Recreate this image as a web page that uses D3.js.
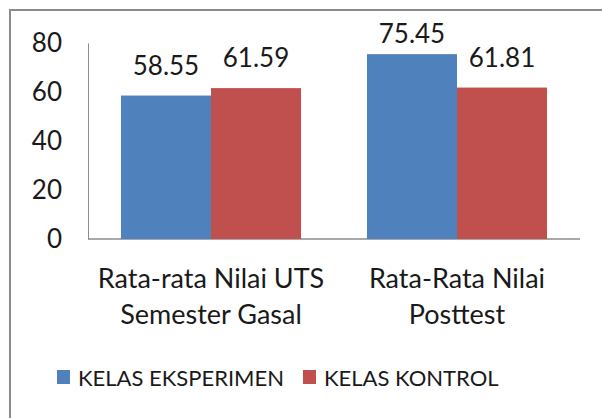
<!DOCTYPE html>
<html>
<head>
<meta charset="utf-8">
<script src="https://cdn.jsdelivr.net/npm/d3@7/dist/d3.min.js"></script>
<style>
    body { margin: 0; background: #fff; }
    svg text { font-family: Lato, "Open Sans", sans-serif; fill: #1a1a1a; }
</style>
</head>
<body>
<div id="chart"></div>
<script>
    "use strict";

    // chart data
    const categories = [["Rata-rata Nilai UTS", "Semester Gasal"], ["Rata-Rata Nilai", "Posttest"]];
    const seriesNames = ["KELAS EKSPERIMEN", "KELAS KONTROL"];
    const seriesValues = [[58.55, 75.45], [61.59, 61.81]];
    const yTicks = [0, 20, 40, 60, 80];
    const colors = ["#4f81bd", "#c0504d"];

    const width = 602;
    const height = 418;
    const margin = { top: 43, right: 22, bottom: 179, left: 88 };

    let svg = d3.select("#chart").append("svg")
        .attr("width", width)
        .attr("height", height);

    // outer frame (only top and left edges are visible in the picture)
    svg.append("rect")
        .attr("x", 10)
        .attr("y", 10)
        .attr("width", width + 20)
        .attr("height", height + 20)
        .style("fill", "none")
        .style("stroke", "#8c8c8c")
        .style("stroke-width", 2);

    let plot = svg.append("g")
        .attr("transform", `translate(${margin.left},${margin.top})`);

    let plotWidth = width - margin.left - margin.right;
    let plotHeight = height - margin.top - margin.bottom;

    // setup x
    let x0 = d3.scaleBand()
        .domain(d3.range(categories.length))
        .range([0, plotWidth])
        .paddingInner(0.268)
        .paddingOuter(0.134);
    let x1 = d3.scaleBand()
        .domain(d3.range(seriesNames.length))
        .range([0, x0.bandwidth()]);

    // setup y
    let y = d3.scaleLinear()
        .domain([0, 80])
        .range([plotHeight, 0]);

    // y-axis: labels and line only
    let yAxis = d3.axisLeft(y)
        .tickValues(yTicks)
        .tickSize(0)
        .tickPadding(26);
    let yAxisG = plot.append("g").call(yAxis);
    yAxisG.select(".domain").style("stroke", "#8c8c8c").style("stroke-width", 1);
    yAxisG.selectAll("text")
        .style("font-size", "26px")
        .style("font-family", "Lato, sans-serif")
        .style("fill", "#1a1a1a");

    // x-axis baseline
    plot.append("line")
        .attr("x1", 0)
        .attr("x2", plotWidth)
        .attr("y1", y(0))
        .attr("y2", y(0))
        .style("stroke", "#8c8c8c")
        .style("stroke-width", 1.5);

    // bars
    let groups = plot.selectAll(".group")
        .data(categories)
        .enter()
        .append("g")
        .attr("class", "group")
        .attr("transform", (_d, i) => `translate(${x0(i)},0)`);

    groups.each(function (_d, i) {
        let g = d3.select(this);
        seriesValues.forEach((values, s) => {
            g.append("rect")
                .attr("x", x1(s))
                .attr("y", y(values[i]))
                .attr("width", x1.bandwidth())
                .attr("height", y(0) - y(values[i]))
                .style("fill", colors[s]);

            g.append("text")
                .attr("x", x1(s) + x1.bandwidth() / 2)
                .attr("y", Math.max(y(values[i]) - 21, y(80)))
                .attr("text-anchor", "middle")
                .style("font-size", "26px")
                .text(values[i].toFixed(2));
        });

        // category label
        let label = g.append("text")
            .attr("text-anchor", "middle")
            .style("font-size", "27px");
        categories[i].forEach((line, k) => {
            label.append("tspan")
                .attr("x", x0.bandwidth() / 2)
                .attr("y", y(0) + 49 + k * 36)
                .text(line);
        });
    });

    // legend
    let legendX = [57, 303];
    let legend = svg.selectAll(".legend")
        .data(seriesNames)
        .enter()
        .append("g")
        .attr("class", "legend")
        .attr("transform", (_d, i) => `translate(${legendX[i]},370)`);

    legend.append("rect")
        .attr("width", 13)
        .attr("height", 14)
        .style("fill", (_d, i) => colors[i]);

    legend.append("text")
        .attr("x", 21)
        .attr("y", 16)
        .style("font-size", "22px")
        .text(d => d);
</script>
</body>
</html>
